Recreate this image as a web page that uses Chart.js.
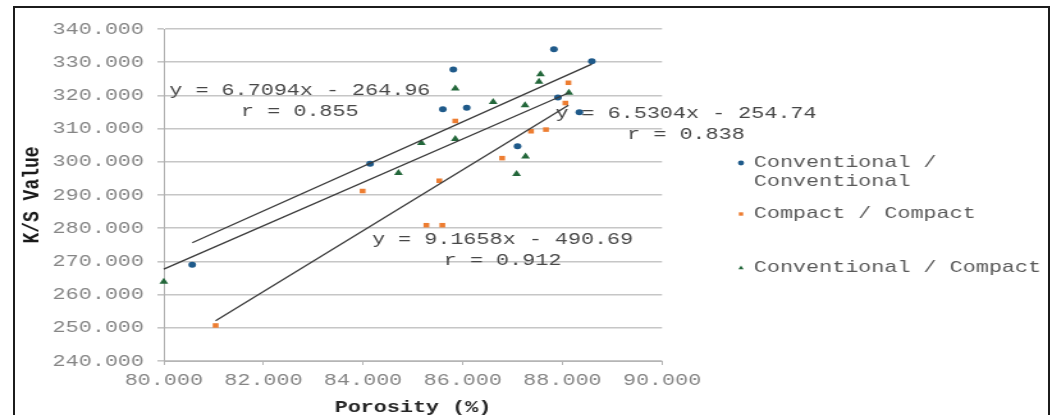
<!DOCTYPE html>
<html>
<head>
<meta charset="utf-8">
<script src="https://cdn.jsdelivr.net/npm/chart.js@4.4.1/dist/chart.umd.min.js"></script>
<style>
  html, body { margin: 0; padding: 0; background: #fff; width: 1052px; height: 415px; overflow: hidden; }
  /* the chart is laid out narrow and widened horizontally, like the wide-set typewriter look */
  #wrap { position: absolute; left: 0; top: 0; width: 822px; height: 415px; transform: scaleX(1.2798); transform-origin: 0 0; }
  #frame { position: absolute; left: 13px; top: 6px; width: 1037px; height: 440px; border: 2px solid #1c1c1c; box-sizing: border-box; pointer-events: none; }
</style>
</head>
<body>
<div id="wrap"><canvas id="chart" width="822" height="415"></canvas></div>
<div id="frame"></div>
<script>
// Porosity (%) and K/S value for each yarn / fabric combination
const seriesNames = ['Conventional / Conventional', 'Compact / Compact', 'Conventional / Compact'];

const convConvX = [80.57, 84.14, 85.60, 85.81, 86.08, 87.10, 87.83, 87.91, 88.34, 88.59];
const convConvY = [269.0, 299.4, 315.8, 327.8, 316.3, 304.7, 333.9, 319.4, 314.9, 330.3];

const compCompX = [81.04, 83.99, 85.27, 85.53, 85.59, 85.85, 86.79, 87.37, 87.67, 88.06, 88.12];
const compCompY = [250.7, 291.2, 280.9, 294.3, 280.9, 312.3, 301.1, 309.2, 309.7, 317.7, 323.8];

const convCompX = [80.00, 84.71, 85.17, 85.85, 85.85, 86.61, 87.08, 87.25, 87.26, 87.53, 87.56, 88.13];
const convCompY = [263.9, 296.6, 305.7, 306.9, 322.1, 318.0, 296.3, 317.0, 301.6, 324.1, 326.4, 320.8];

// linear fits: y = slope * x + intercept, with correlation r
const fitSlopes = [6.7094, 9.1658, 6.5304];
const fitIntercepts = [-264.96, -490.69, -254.74];
const fitR = [0.855, 0.912, 0.838];

// axis ticks
const xTicks = [80, 82, 84, 86, 88, 90];
const yTicks = [240, 250, 260, 270, 280, 290, 300, 310, 320, 330, 340];

const seriesX = [convConvX, compCompX, convCompX];
const seriesY = [convConvY, compCompY, convCompY];

const seriesColors = ['#1f5a8a', '#ed7d31', '#23673a'];
const seriesStyles = ['circle', 'rect', 'triangle'];
const seriesRadius = [3, 3.2, 4];

// where each equation label sits, in axis units (centre of its first line)
const eqLabelAt = [
  { x: 82.73, y: 321.4 },
  { x: 86.80, y: 276.7 },
  { x: 90.48, y: 314.4 }
];

const monoFont = '"Liberation Mono", "Courier New", monospace';

function points(xs, ys) {
  return xs.map((v, i) => ({ x: v, y: ys[i] }));
}

function fitLine(i) {
  const xs = seriesX[i];
  const x0 = Math.min(...xs), x1 = Math.max(...xs);
  return [
    { x: x0, y: fitSlopes[i] * x0 + fitIntercepts[i] },
    { x: x1, y: fitSlopes[i] * x1 + fitIntercepts[i] }
  ];
}

function eqText(i) {
  const b = fitIntercepts[i];
  return 'y = ' + fitSlopes[i] + 'x ' + (b < 0 ? '- ' : '+ ') + Math.abs(b).toFixed(2);
}

const datasets = [];
seriesNames.forEach((name, i) => {
  datasets.push({
    type: 'scatter',
    label: name,
    data: points(seriesX[i], seriesY[i]),
    pointStyle: seriesStyles[i],
    pointRadius: seriesRadius[i],
    pointHoverRadius: seriesRadius[i],
    backgroundColor: seriesColors[i],
    borderColor: seriesColors[i],
    borderWidth: 0,
    clip: false,
    order: 2
  });
});
seriesNames.forEach((name, i) => {
  datasets.push({
    type: 'line',
    label: name + ' fit',
    data: fitLine(i),
    borderColor: '#3a3a3a',
    borderWidth: 1.3,
    pointRadius: 0,
    fill: false,
    clip: false,
    order: 1
  });
});

// equation and r labels beside the fitted lines
const fitLabels = {
  id: 'fitLabels',
  afterDatasetsDraw(chart) {
    const { ctx, scales } = chart;
    ctx.save();
    ctx.font = '17px ' + monoFont;
    ctx.fillStyle = '#474747';
    ctx.textAlign = 'center';
    ctx.textBaseline = 'middle';
    seriesNames.forEach((n, i) => {
      const px = scales.x.getPixelForValue(eqLabelAt[i].x);
      const py = scales.y.getPixelForValue(eqLabelAt[i].y);
      ctx.fillText(eqText(i), px, py);
      ctx.fillText('r = ' + fitR[i].toFixed(3), px, py + 21);
    });
    ctx.restore();
  }
};

// legend to the right of the plot, long names wrapped onto two lines
const sideLegend = {
  id: 'sideLegend',
  afterDraw(chart) {
    const ctx = chart.ctx;
    const rows = [
      ['Conventional /', 'Conventional'],
      ['Compact / Compact'],
      ['Conventional / Compact']
    ];
    const rowY = [162, 213, 267];
    const markX = 579, textX = 589;
    ctx.save();
    ctx.font = '17px ' + monoFont;
    ctx.textAlign = 'left';
    ctx.textBaseline = 'middle';
    rows.forEach((lines, i) => {
      const ds = chart.data.datasets[i];
      ctx.fillStyle = ds.backgroundColor;
      ctx.strokeStyle = ds.borderColor;
      Chart.helpers.drawPoint(ctx, { pointStyle: ds.pointStyle, radius: 2.4, rotation: 0, borderWidth: 0 }, markX, rowY[i] + 1);
      ctx.fillStyle = '#595959';
      lines.forEach((t, j) => ctx.fillText(t, textX, rowY[i] + j * 19));
    });
    ctx.restore();
  }
};

new Chart(document.getElementById('chart'), {
  type: 'scatter',
  data: { datasets },
  options: {
    responsive: false,
    animation: false,
    events: [],
    layout: { padding: { left: 0, right: 304.7, top: 29, bottom: 0 } },
    plugins: { legend: { display: false }, tooltip: { enabled: false } },
    scales: {
      x: {
        type: 'linear',
        min: 80, max: 90,
        afterBuildTicks: s => { s.ticks = xTicks.map(v => ({ value: v })); },
        afterFit: s => { s.height = 54; },
        ticks: {
          autoSkip: false, maxRotation: 0, padding: 5,
          color: '#858585',
          font: { family: monoFont, size: 17 },
          callback: v => Number(v).toFixed(3)
        },
        grid: { drawOnChartArea: false, drawTicks: true, tickLength: 4, color: '#b5b5b5' },
        border: { display: true, color: '#b5b5b5', width: 1 },
        title: {
          display: true, text: 'Porosity (%)', color: '#262626',
          font: { family: monoFont, size: 17, weight: 'bold', lineHeight: '14px' },
          padding: { top: 0, bottom: 0 }
        }
      },
      y: {
        type: 'linear',
        min: 240, max: 340,
        afterBuildTicks: s => { s.ticks = yTicks.map(v => ({ value: v })); },
        afterFit: s => { s.width = 128; },
        ticks: {
          padding: 10.5,
          color: '#858585',
          font: { family: monoFont, size: 17 },
          callback: v => Number(v).toFixed(3)
        },
        grid: { color: '#c6c6c6', lineWidth: 1.6, tickLength: 5, drawTicks: true },
        border: { display: true, color: '#b0b0b0', width: 1 },
        title: {
          display: true, text: 'K/S Value', color: '#1a1a1a',
          font: { family: monoFont, size: 18, weight: 'bold', lineHeight: 1 },
          padding: { top: 16, bottom: 0 }
        }
      }
    }
  },
  plugins: [fitLabels, sideLegend]
});
</script>
</body>
</html>
